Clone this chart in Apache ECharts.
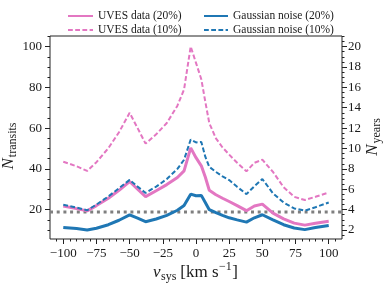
<!DOCTYPE html>
<html>
<head>
<meta charset="utf-8">
<script src="https://cdn.jsdelivr.net/npm/echarts@6/dist/echarts.min.js"></script>
<style>
html,body{margin:0;padding:0;background:#fff;}
#c{width:388px;height:291px;}
</style>
</head>
<body>
<div id="c"></div>
<script>
// ---- data ----
const vsys = [-100,-90,-82,-75,-66,-58,-50,-44,-38,-30,-22,-14,-9,-4,0,4,7,10,15,20,25,31,38,44,50,58,66,74,82,90,100];
const uves20 = [21.8,20.5,19.4,22,25.6,29.5,33.8,30,26.4,29.3,32.3,35.8,39,50.3,45.5,41.5,36,29.5,27.3,25.6,24,22,19.5,21.8,22.7,18.3,15.5,13.4,12.4,13.3,14.3];
const uves10 = [43.5,41.3,39,43.3,50.2,58,67.5,60,52.4,57,62.5,71,79,100,92,84,73,62.5,55,50.5,47,43,38.8,43,44.5,38.5,31,26.3,24.7,26.3,28.4];
const gauss20 = [11.3,10.7,10,10.9,12.6,14.8,17.4,15.8,14.1,15.4,17.2,19.7,22,27.6,26.8,27,23.5,20,18.5,17.2,16,15,13.9,16,17.5,15,12.6,11,10.2,11.2,12.2];
const gauss10 = [22.4,21,19.7,22.5,26.5,30.5,34.6,31.3,28.2,31.3,35,40,44.5,54.4,53,53.2,46,41,38.5,36.3,34.5,31.2,27.6,31.5,35,28,23.5,20.6,19.5,21.2,23.5];
const threshold = 18.8;
const xTicks = [-100,-75,-50,-25,0,25,50,75,100];
const xMinor = [-105,-95,-90,-85,-80,-70,-65,-60,-55,-45,-40,-35,-30,-20,-15,-10,-5,5,10,15,20,30,35,40,45,55,60,65,70,80,85,90,95,105];
const yTicks = [20,40,60,80,100];
const yMinor = [10,15,25,30,35,45,50,55,65,70,75,85,90,95,105];
const y2Ticks = [2,4,6,8,10,12,14,16,18,20];
const y2Minor = [1.5,2.5,3,3.5,4.5,5,5.5,6.5,7,7.5,8.5,9,9.5,10.5,11,11.5,12.5,13,13.5,14.5,15,15.5,16.5,17,17.5,18.5,19,19.5,20.5,21];
const names = ['UVES data (20%)','UVES data (10%)','Gaussian noise (20%)','Gaussian noise (10%)'];

const PINK = '#e377c2', BLUE = '#1f77b4', GRAY = '#7f7f7f', INK = '#1a1a1a';
const FONT = 'Liberation Serif';
const X0 = -110, X1 = 110, Y0 = 5.6, Y1 = 105.2;

function pairs(ys){ return vsys.map((x,i)=>[x, ys[i]]); }

const ctx = document.createElement('canvas').getContext('2d');
function tw(t, size, italic){ ctx.font = (italic?'italic ':'') + size + 'px "' + FONT + '"'; return ctx.measureText(t).width; }
function mathLabel(parts, cx, cy, rotation){
  let total = 0; parts.forEach(p=>{ p.w = tw(p.t, p.size, p.italic); total += p.w + (p.gap||0); });
  let x = -total/2; const children = [];
  parts.forEach(p=>{
    x += (p.gap||0);
    children.push({type:'text', x:x, y:p.dy||0, style:{text:p.t, fill:INK, font:(p.italic?'italic ':'')+p.size+'px "'+FONT+'"', align:'left', verticalAlign:'middle'}});
    x += p.w;
  });
  return {type:'group', x:cx, y:cy, rotation:rotation||0, children:children, silent:true};
}

const tickLabel = {fontFamily:FONT, fontSize:13, color:INK};
const minus = v => String(v).replace('-', '\u2212');
const noLine = {show:false, onZero:false};

const legendBase = {orient:'vertical', top:5, itemHeight:14, itemGap:2, selectedMode:false,
  itemStyle:{opacity:0}, textStyle:{fontFamily:FONT, fontSize:11.5, color:INK}};

const chart = echarts.init(document.getElementById('c'), null, {renderer:'canvas'});
chart.setOption({
  animation:false,
  backgroundColor:'#fff',
  grid:{left:50, right:46, top:36, bottom:52, show:true, borderColor:'#222', borderWidth:1, backgroundColor:'transparent'},
  legend:[
    Object.assign({}, legendBase, {data:[names[0],names[1]], left:62, itemWidth:25}),
    Object.assign({}, legendBase, {data:[names[2],names[3]], left:198, itemWidth:24})
  ],
  xAxis:[
    {type:'value', min:X0, max:X1, position:'bottom', axisLine:noLine, splitLine:{show:false},
     axisTick:{show:true, customValues:xTicks, length:5, lineStyle:{color:'#222'}},
     axisLabel:Object.assign({customValues:xTicks, margin:8, formatter:minus}, tickLabel)},
    {type:'value', min:X0, max:X1, position:'bottom', offset:0, axisLine:noLine, splitLine:{show:false},
     axisTick:{show:true, customValues:xMinor, length:2.5, lineStyle:{color:'#222'}}, axisLabel:{show:false}}
  ],
  yAxis:[
    {type:'value', min:Y0, max:Y1, position:'left', axisLine:noLine, splitLine:{show:false},
     axisTick:{show:true, customValues:yTicks, length:5, lineStyle:{color:'#222'}},
     axisLabel:Object.assign({customValues:yTicks, margin:8}, tickLabel)},
    {type:'value', min:Y0, max:Y1, position:'left', offset:0, axisLine:noLine, splitLine:{show:false},
     axisTick:{show:true, customValues:yMinor, length:2.5, lineStyle:{color:'#222'}}, axisLabel:{show:false}},
    {type:'value', min:Y0/5, max:Y1/5, position:'right', offset:0, axisLine:noLine, splitLine:{show:false},
     axisTick:{show:true, customValues:y2Ticks, length:5, lineStyle:{color:'#222'}},
     axisLabel:Object.assign({customValues:y2Ticks, margin:6}, tickLabel)},
    {type:'value', min:Y0/5, max:Y1/5, position:'right', offset:0, axisLine:noLine, splitLine:{show:false},
     axisTick:{show:true, customValues:y2Minor, length:2.5, lineStyle:{color:'#222'}}, axisLabel:{show:false}}
  ],
  series:[
    {type:'line', name:'threshold', data:[[X0,threshold],[X1,threshold]], symbol:'none', silent:true,
     lineStyle:{color:GRAY, width:3, type:[3,3.7], cap:'butt'}, z:1},
    {type:'line', name:names[0], data:pairs(uves20), symbol:'none', lineStyle:{color:PINK, width:3}, itemStyle:{color:PINK}, z:2},
    {type:'line', name:names[1], data:pairs(uves10), symbol:'none', lineStyle:{color:PINK, width:2, type:[4.8,2.4]}, itemStyle:{color:PINK}, z:3},
    {type:'line', name:names[2], data:pairs(gauss20), symbol:'none', lineStyle:{color:BLUE, width:3}, itemStyle:{color:BLUE}, z:4},
    {type:'line', name:names[3], data:pairs(gauss10), symbol:'none', lineStyle:{color:BLUE, width:2, type:[4.8,2.4]}, itemStyle:{color:BLUE}, z:5}
  ],
  graphic:[
    mathLabel([{t:'N', size:17, italic:true},{t:'transits', size:12, dy:4, gap:1}], 9, 146, Math.PI/2),
    mathLabel([{t:'N', size:17, italic:true},{t:'years', size:12, dy:4, gap:1}], 373, 137, Math.PI/2),
    mathLabel([{t:'v', size:17, italic:true},{t:'sys', size:12, dy:4, gap:0.5},{t:'[km s', size:17, gap:4},{t:'\u22121', size:12, dy:-6, gap:0.5},{t:']', size:17, gap:0.5}], 195.5, 273, 0)
  ]
});
</script>
</body>
</html>
